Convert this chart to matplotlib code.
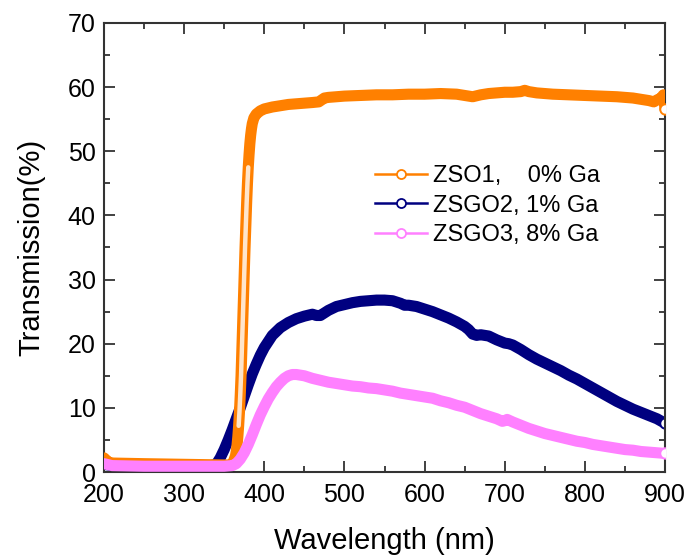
import matplotlib
matplotlib.use("Agg")
import matplotlib.pyplot as plt
from matplotlib.lines import Line2D
from matplotlib.ticker import MultipleLocator
import numpy as np

plt.rcParams['font.family'] = ['Liberation Sans', 'DejaVu Sans']

# ZSO1, 0% Ga
wl_zso1 = [200, 205, 210, 250, 300, 350, 356, 358, 360, 362, 364, 365, 366, 367, 368,
           369, 370, 371, 372, 373, 374, 375, 376, 377, 378, 379, 380, 381, 382, 383,
           384, 385, 387, 390, 395, 400, 410, 420, 430, 440, 450, 460, 468, 475, 480,
           490, 500, 520, 540, 560, 580, 600, 620, 640, 650, 660, 670, 680, 690, 700,
           710, 720, 725, 730, 740, 750, 760, 780, 800, 820, 840, 860, 870, 880, 886,
           890, 895, 898, 900]
t_zso1 = [2.2, 1.6, 1.4, 1.3, 1.2, 1.1, 1.1, 1.1, 1.3, 1.8, 2.5, 3.2, 4.2, 5.5, 7.2,
          9.3, 12.0, 15.0, 19.0, 23.0, 27.0, 31.0, 35.0, 38.5, 42.0, 45.0, 47.5, 49.5, 51.2, 52.5,
          53.5, 54.3, 55.2, 55.8, 56.3, 56.6, 56.9, 57.1, 57.3, 57.4, 57.5, 57.6, 57.7, 58.3, 58.4,
          58.5, 58.6, 58.7, 58.8, 58.8, 58.9, 58.9, 59.0, 58.9, 58.7, 58.5, 58.8, 59.0, 59.1, 59.2,
          59.2, 59.3, 59.5, 59.3, 59.1, 59.0, 58.9, 58.8, 58.7, 58.6, 58.5, 58.3, 58.1, 57.9, 57.7,
          58.0, 58.3, 58.8, 56.6]

# ZSGO2, 1% Ga
wl_zsgo2 = [200, 210, 250, 300, 330, 340, 345, 350, 355, 360, 365, 370, 375, 380, 385,
            390, 395, 400, 410, 420, 430, 440, 450, 460, 465, 470, 480, 490, 500, 510,
            520, 530, 540, 550, 560, 570, 575, 580, 590, 600, 610, 620, 630, 640, 650,
            655, 660, 665, 670, 680, 690, 700, 705, 710, 720, 730, 740, 750, 760, 770,
            780, 790, 800, 810, 820, 830, 840, 850, 860, 870, 880, 890, 900]
t_zsgo2 = [1.2, 1.0, 0.9, 0.9, 0.9, 1.2, 2.2, 3.5, 5.0, 6.6, 8.3, 10.0, 11.8, 13.6, 15.3,
           16.8, 18.2, 19.4, 21.3, 22.5, 23.3, 23.9, 24.3, 24.6, 24.4, 24.4, 25.2, 25.8, 26.1, 26.4,
           26.6, 26.7, 26.8, 26.8, 26.7, 26.3, 26.0, 26.0, 25.8, 25.4, 25.0, 24.5, 24.0, 23.4, 22.7,
           22.2, 21.5, 21.3, 21.4, 21.2, 20.6, 20.1, 20.0, 19.8, 19.1, 18.3, 17.6, 17.0, 16.4, 15.8,
           15.1, 14.5, 13.8, 13.1, 12.4, 11.7, 11.0, 10.4, 9.8, 9.3, 8.8, 8.3, 7.6]

# ZSGO3, 8% Ga
wl_zsgo3 = [200, 210, 250, 300, 350, 360, 365, 370, 375, 380, 385, 390, 395, 400, 405,
            410, 415, 420, 425, 430, 435, 440, 450, 460, 470, 480, 490, 500, 510, 520,
            530, 540, 550, 560, 570, 580, 590, 600, 610, 620, 630, 640, 650, 660, 670,
            680, 690, 697, 700, 703, 710, 720, 730, 740, 750, 760, 770, 780, 790, 800,
            810, 820, 830, 840, 850, 860, 870, 880, 890, 900]
t_zsgo3 = [1.3, 1.0, 0.9, 0.9, 0.9, 1.0, 1.3, 2.0, 3.0, 4.3, 5.8, 7.4, 8.9, 10.2, 11.4,
           12.4, 13.3, 14.0, 14.6, 15.0, 15.2, 15.2, 15.0, 14.6, 14.3, 14.0, 13.8, 13.6, 13.4, 13.3,
           13.1, 13.0, 12.8, 12.6, 12.3, 12.1, 11.9, 11.7, 11.5, 11.1, 10.8, 10.4, 10.1, 9.6, 9.1,
           8.7, 8.3, 7.9, 8.0, 8.2, 7.8, 7.3, 6.8, 6.4, 6.0, 5.7, 5.4, 5.1, 4.8, 4.6,
           4.3, 4.1, 3.9, 3.7, 3.5, 3.4, 3.2, 3.1, 3.0, 2.9]

labels = ['ZSO1,    0% Ga', 'ZSGO2, 1% Ga', 'ZSGO3, 8% Ga']
colors = ['#ff8000', '#000080', '#ff80ff']
series = [(wl_zso1, t_zso1), (wl_zsgo2, t_zsgo2), (wl_zsgo3, t_zsgo3)]
zorders = [3, 2, 4]

fig = plt.figure(figsize=(6.91, 5.59), dpi=100)
ax = fig.add_axes([0.1505, 0.1556, 0.8119, 0.8033])

for (x, y), c, z in zip(series, colors, zorders):
    x = np.array(x, dtype=float)
    y = np.array(y, dtype=float)
    # dense open symbols merge into a thick band
    ax.plot(x, y, '-', color=c, lw=8, solid_capstyle='round',
            solid_joinstyle='round', zorder=z)
    # on the steep absorption edge the symbols stay hollow
    dy = np.diff(y)
    steep = np.zeros(len(y), dtype=bool)
    steep[1:] |= dy > 2.0
    steep[:-1] |= dy > 2.0
    if steep.sum() > 2:
        ax.plot(x[steep], y[steep], '-', color='white', lw=3.2,
                solid_capstyle='round', alpha=0.8, zorder=z + 0.2)
    ax.plot(x[-1], y[-1], 'o', ms=7.5, mfc='white', mec=c, mew=1.4,
            zorder=z + 0.5)

ax.set_xlim(200, 900)
ax.set_ylim(0, 70)
ax.xaxis.set_major_locator(MultipleLocator(100))
ax.xaxis.set_minor_locator(MultipleLocator(50))
ax.yaxis.set_major_locator(MultipleLocator(10))
ax.yaxis.set_minor_locator(MultipleLocator(5))
ax.tick_params(which='both', direction='in', top=True, right=True,
               labelsize=18, width=1.3, color='#333333')
ax.tick_params(axis='x', pad=8)
ax.tick_params(axis='y', pad=6)
ax.tick_params(which='major', length=8)
ax.tick_params(which='minor', length=4.5)
for s in ax.spines.values():
    s.set_linewidth(1.5)
    s.set_color('#333333')

ax.set_xlabel('Wavelength (nm)', fontsize=21, labelpad=14)
ax.set_ylabel('Transmission(%)', fontsize=21, labelpad=16)

handles = [Line2D([], [], color=c, lw=1.8, marker='o', ms=6.5, mfc='white',
                  mec=c, mew=1.3) for c in colors]
ax.legend(handles, labels, loc='upper left', bbox_to_anchor=(0.466, 0.705),
          frameon=False, fontsize=17, handlelength=2.2, handletextpad=0.25,
          labelspacing=0.33, borderaxespad=0)

fig.savefig('out.png', dpi=100)
